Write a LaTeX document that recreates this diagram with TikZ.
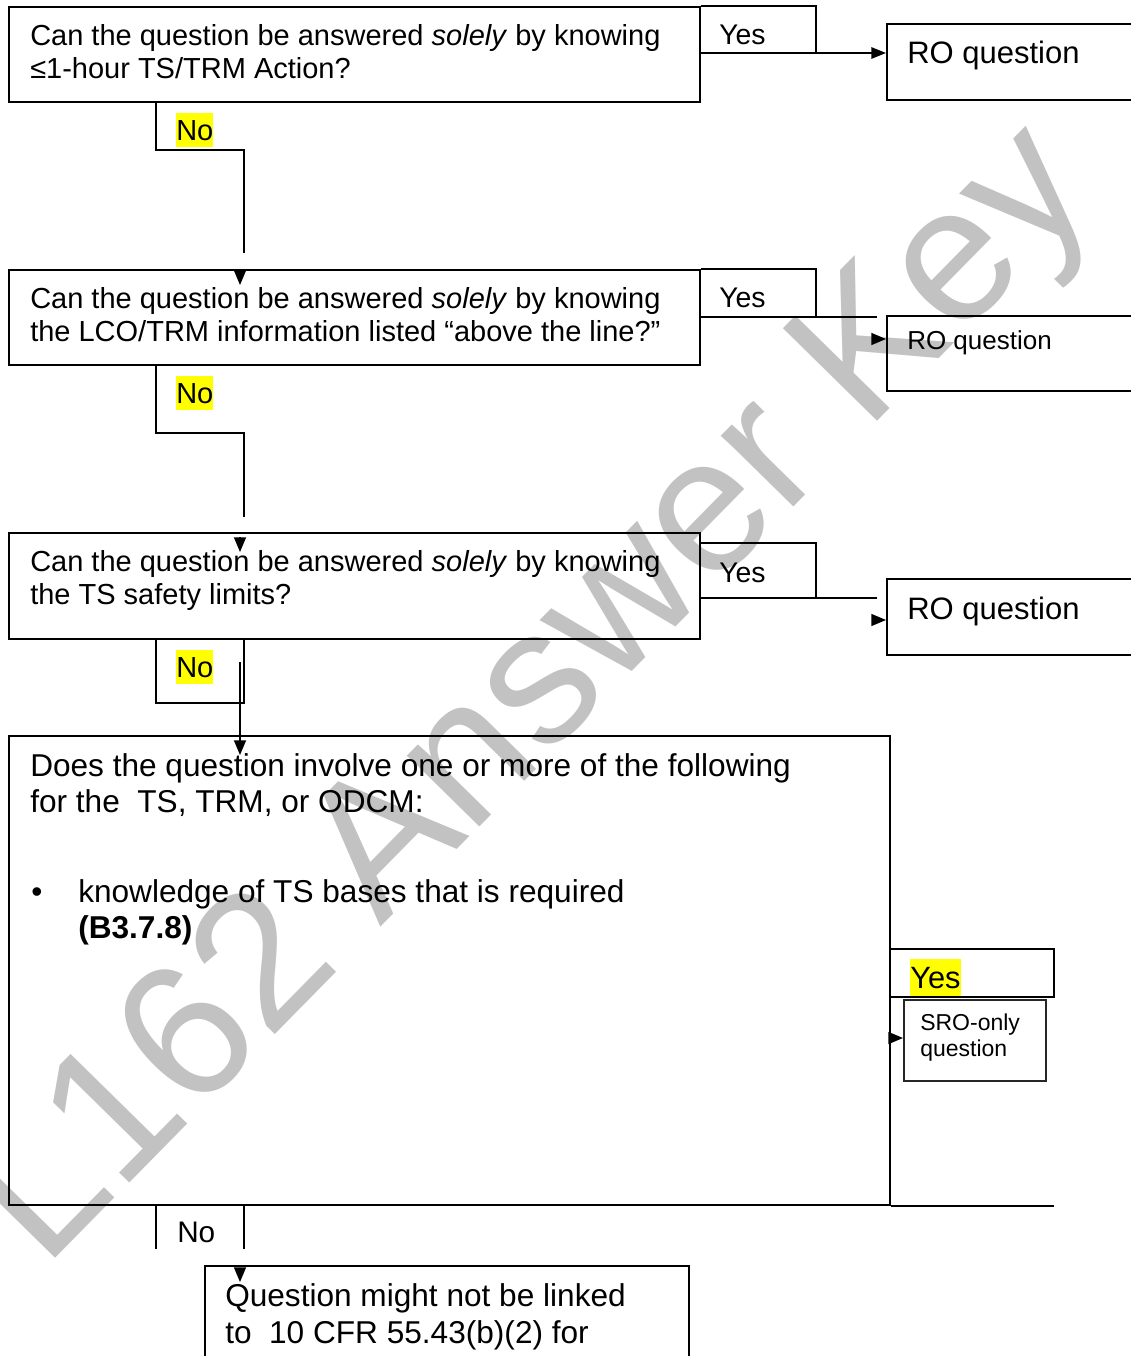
\documentclass[tikz,border=0pt]{standalone}
\usepackage{fontspec}
\setmainfont{Liberation Sans}
\usetikzlibrary{arrows.meta}
\newlength\pxu
\setlength\pxu{0.75pt}
\newcommand\setfs[1]{\fontsize{#1}{#1}\selectfont}
\definecolor{wmgray}{RGB}{194,194,194}
\definecolor{hlyellow}{RGB}{255,255,0}
\begin{document}
\begin{tikzpicture}[x=0.75pt,y=-0.75pt,
  box/.style={draw, line width=1.4pt, inner sep=0pt, anchor=north west, rectangle},
  txt/.style={anchor=base west, inner sep=0pt},
  qf/.style={font=\setfs{21.75pt}},
  bigf/.style={font=\setfs{23.7pt}},
  rof/.style={font=\setfs{23.25pt}},
  rosmall/.style={font=\setfs{19.5pt}},
  yesf/.style={font=\setfs{21.3pt}},
  nof/.style={font=\setfs{21.75pt}},
  srof/.style={font=\setfs{17.25pt}},
  marked/.style={fill=hlyellow, text height=20pt, text depth=5pt},
  wire/.style={line width=1.4pt},
  tip/.style={line width=1pt, -{Triangle[length=11pt,width=9pt]}}
]
\useasboundingbox (0,0) rectangle (1131,1356);
\clip (0,0) rectangle (1131,1356);

% watermark behind everything
\node[txt, rotate=45.5, text=wmgray, font=\setfs{144pt}] (wm) at (44,1270) {L162 Answer Key};

% decision boxes and result boxes
\node[box, minimum width=691\pxu, minimum height=95\pxu] (q1) at (8,6) {};
\node[box, minimum width=260\pxu, minimum height=76\pxu] (ro1) at (886,23) {};
\node[box, minimum width=691\pxu, minimum height=95\pxu] (q2) at (8,269) {};
\node[box, minimum width=260\pxu, minimum height=75\pxu] (ro2) at (886,315) {};
\node[box, minimum width=691\pxu, minimum height=106\pxu] (q3) at (8,532) {};
\node[box, minimum width=260\pxu, minimum height=76\pxu] (ro3) at (886,578) {};
\node[box, minimum width=881\pxu, minimum height=469\pxu] (q4) at (8,735) {};
\node[box, line width=1.2pt, draw=black!85, minimum width=142\pxu, minimum height=81\pxu] (sro) at (903,999) {};
\node[box, line width=1.2pt, minimum width=484\pxu, minimum height=200\pxu] (q5) at (204,1265) {};

% box texts
\node[txt, qf] (q1a) at (30,45) {Can the question be answered \textit{solely} by knowing};
\node[txt, qf] (q1b) at (30,78) {≤1-hour TS/TRM Action?};
\node[txt, qf] (q2a) at (30,308) {Can the question be answered \textit{solely} by knowing};
\node[txt, qf] (q2b) at (30,341) {the LCO/TRM information listed “above the line?”};
\node[txt, qf] (q3a) at (30,571) {Can the question be answered \textit{solely} by knowing};
\node[txt, qf] (q3b) at (30,604) {the TS safety limits?};
\node[txt, bigf] (q4a) at (30,776) {Does the question involve one or more of the following};
\node[txt, bigf] (q4b) at (30,812) {for the~~TS, TRM, or ODCM:};
\node[txt, bigf] (q4dot) at (31,902) {•};
\node[txt, bigf] (q4c) at (78,902) {knowledge of TS bases that is required};
\node[txt, bigf] (q4d) at (78,938) {\textbf{(B3.7.8)}};
\node[txt, bigf] (q5a) at (225,1306) {Question might not be linked};
\node[txt, bigf] (q5b) at (225,1343) {to~~10 CFR 55.43(b)(2) for};
\node[txt, rof] (ro1t) at (907,63) {RO question};
\node[txt, rosmall] (ro2t) at (907,349) {RO question};
\node[txt, rof] (ro3t) at (907,619) {RO question};
\node[txt, srof] (srot1) at (920,1030) {SRO-only};
\node[txt, srof] (srot2) at (920,1056) {question};

% "Yes" branches
\coordinate (ya1) at (816,6);
\coordinate (yb1) at (816,53);
\draw[wire] (q1.north east) -- (ya1) -- (yb1);
\draw[wire, -{Triangle[length=11pt,width=8.5pt]}] (q1.east |- yb1) -- (ro1.west |- yb1);
\node[txt, yesf] (yes1) at (719,44) {Yes};

\coordinate (ya2) at (816,269);
\coordinate (yb2) at (816,317);
\coordinate (ye2) at (877,317);
\coordinate (ys2) at (872,339);
\draw[wire] (q2.north east) -- (ya2) -- (yb2);
\draw[wire] (q2.east |- yb2) -- (ye2);
\draw[tip] (ys2) -- (ro2.west |- ys2);
\node[txt, yesf] (yes2) at (719,307) {Yes};

\coordinate (ya3) at (816,543);
\coordinate (yb3) at (816,598);
\coordinate (ye3) at (877,598);
\coordinate (ys3) at (872,620);
\draw[wire] (q3.east |- ya3) -- (ya3) -- (yb3);
\draw[wire] (q3.east |- yb3) -- (ye3);
\draw[tip] (ys3) -- (ro3.west |- ys3);
\node[txt, yesf] (yes3) at (719,582) {Yes};

\coordinate (ya4) at (1054,949);
\coordinate (yb4) at (1054,997);
\coordinate (ys4) at (890,1038);
\coordinate (qe4) at (1054,1204);
\draw[wire] (q4.east |- ya4) -- (ya4) -- (yb4) -- (q4.east |- yb4);
\draw[tip] (ys4) -- (sro.west |- ys4);
\draw[wire] (q4.south east) -- (qe4 |- q4.south east);
\node[txt, font=\setfs{23.1pt}, fill=hlyellow, text height=21.75pt, text depth=6pt] (yes4) at (910,988) {Yes};

% "No" branches
\coordinate (na1) at (156,150);
\coordinate (nb1) at (244,150);
\coordinate (nc1) at (244,253);
\coordinate (ns1) at (240,270);
\draw[wire] (q1.south -| na1) -- (na1) -- (nb1) -- (nc1);
\draw[tip] (ns1) -- (ns1 |- 0,285);
\node[txt, nof, marked] (no1) at (176,140) {No};

\coordinate (na2) at (156,433);
\coordinate (nb2) at (244,433);
\coordinate (nc2) at (244,517);
\coordinate (ns2) at (240,537);
\draw[wire] (q2.south -| na2) -- (na2) -- (nb2) -- (nc2);
\draw[tip] (ns2) -- (ns2 |- 0,552);
\node[txt, nof, marked] (no2) at (176,403) {No};

\coordinate (na3) at (156,703);
\coordinate (nb3) at (244,703);
\coordinate (ns3) at (240,662);
\draw[wire] (q3.south -| na3) -- (na3) -- (nb3) -- (q3.south -| nb3);
\draw[tip] (ns3) -- (q4.north -| ns3) -- ++(0,20);
\node[txt, nof, marked] (no3) at (176,677) {No};

\coordinate (na4) at (156,1249);
\coordinate (nb4) at (244,1249);
\coordinate (ns4) at (240,1268);
\draw[wire] (q4.south -| na4) -- (na4);
\draw[wire] (q4.south -| nb4) -- (nb4);
\draw[tip] (ns4) -- (ns4 |- 0,1282);
\node[txt, font=\setfs{22.3pt}] (no4) at (177,1242) {No};
\end{tikzpicture}
\end{document}
